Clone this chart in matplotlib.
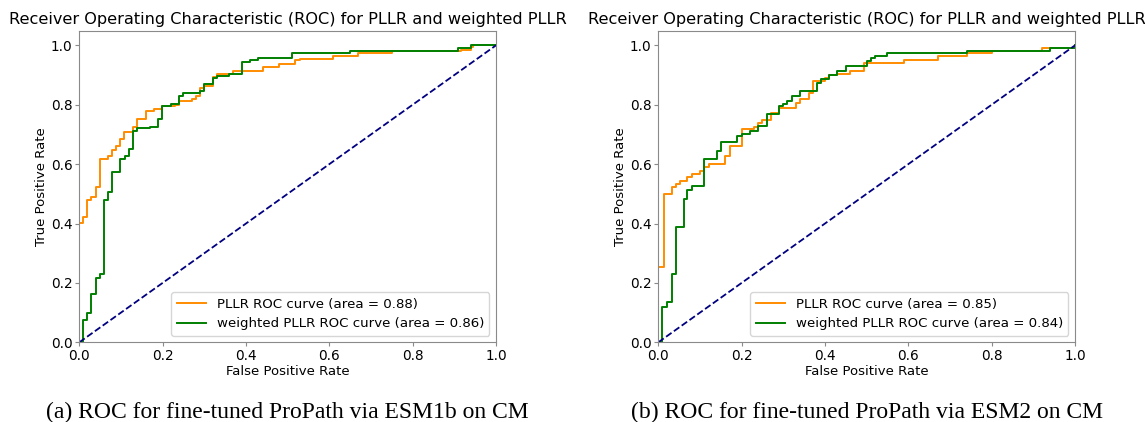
import matplotlib
matplotlib.use('Agg')
import matplotlib.pyplot as plt

# ROC corner points (fpr, tpr)
fpr_a_pllr = [0, 0, 0.008, 0.018, 0.029, 0.039, 0.05, 0.07, 0.079, 0.088, 0.098, 0.107, 0.13, 0.139,
              0.16, 0.179, 0.198, 0.23, 0.24, 0.27, 0.28, 0.29, 0.30, 0.32, 0.33, 0.37, 0.44, 0.48,
              0.518, 0.53, 0.61, 0.67, 0.75, 0.915, 0.94, 0.945, 1.0]
tpr_a_pllr = [0, 0.402, 0.423, 0.48, 0.49, 0.524, 0.617, 0.626, 0.648, 0.661, 0.684, 0.709, 0.726, 0.752,
              0.779, 0.787, 0.796, 0.80, 0.812, 0.82, 0.831, 0.855, 0.862, 0.894, 0.902, 0.913, 0.927, 0.937,
              0.949, 0.955, 0.964, 0.973, 0.98, 0.985, 0.995, 1.0, 1.0]
fpr_a_wpllr = [0, 0.008, 0.018, 0.029, 0.039, 0.05, 0.059, 0.07, 0.079, 0.098, 0.11, 0.119, 0.13, 0.139,
               0.17, 0.189, 0.198, 0.219, 0.24, 0.25, 0.29, 0.30, 0.32, 0.33, 0.36, 0.39, 0.41, 0.43,
               0.51, 0.65, 0.91, 0.94, 1.0]
tpr_a_wpllr = [0, 0.075, 0.10, 0.161, 0.218, 0.23, 0.48, 0.507, 0.574, 0.617, 0.626, 0.65, 0.711, 0.72,
               0.726, 0.753, 0.796, 0.804, 0.829, 0.838, 0.846, 0.87, 0.89, 0.896, 0.905, 0.943, 0.95, 0.957,
               0.973, 0.981, 0.991, 1.0, 1.0]

fpr_b_pllr = [0, 0, 0.013, 0.032, 0.042, 0.053, 0.07, 0.081, 0.10, 0.11, 0.122, 0.161, 0.171, 0.20,
              0.23, 0.24, 0.25, 0.27, 0.29, 0.33, 0.34, 0.362, 0.372, 0.40, 0.41, 0.43, 0.46, 0.494,
              0.59, 0.672, 0.74, 0.80, 0.92, 1.0]
tpr_b_pllr = [0, 0.254, 0.498, 0.522, 0.533, 0.542, 0.555, 0.568, 0.577, 0.592, 0.60, 0.626, 0.661, 0.717,
              0.726, 0.737, 0.749, 0.771, 0.788, 0.807, 0.821, 0.84, 0.879, 0.89, 0.90, 0.904, 0.915, 0.94,
              0.949, 0.965, 0.973, 0.982, 0.991, 1.0]
fpr_b_wpllr = [0, 0.010, 0.021, 0.032, 0.042, 0.061, 0.07, 0.081, 0.11, 0.141, 0.15, 0.19, 0.20, 0.22,
               0.24, 0.26, 0.29, 0.30, 0.31, 0.322, 0.34, 0.38, 0.39, 0.41, 0.43, 0.45, 0.50, 0.51,
               0.52, 0.55, 0.74, 0.94, 1.0]
tpr_b_wpllr = [0, 0.12, 0.136, 0.23, 0.388, 0.483, 0.514, 0.525, 0.617, 0.645, 0.676, 0.695, 0.702, 0.711,
               0.728, 0.77, 0.796, 0.804, 0.812, 0.829, 0.846, 0.874, 0.885, 0.90, 0.915, 0.932, 0.946, 0.957,
               0.965, 0.974, 0.982, 0.991, 1.0]

auc_a = [0.88, 0.86]
auc_b = [0.85, 0.84]
captions = ['(a) ROC for fine-tuned ProPath via ESM1b on CM',
            '(b) ROC for fine-tuned ProPath via ESM2 on CM']

TITLE = 'Receiver Operating Characteristic (ROC) for PLLR and weighted PLLR'
SPINE = '#8a8a8a'

fig = plt.figure(figsize=(11.45, 4.22), dpi=100)
ax_a = fig.add_axes([79.3 / 1145, 1 - 342.3 / 422, 416.7 / 1145, 311.8 / 422])
ax_b = fig.add_axes([658.3 / 1145, 1 - 342.3 / 422, 416.7 / 1145, 311.8 / 422])

panels = [
    (ax_a, fpr_a_pllr, tpr_a_pllr, fpr_a_wpllr, tpr_a_wpllr, auc_a, captions[0]),
    (ax_b, fpr_b_pllr, tpr_b_pllr, fpr_b_wpllr, tpr_b_wpllr, auc_b, captions[1]),
]

for ax, fx, fy, gx, gy, auc, cap in panels:
    ax.plot(fx, fy, color='darkorange', lw=1.4, drawstyle='steps-post',
            label=f'PLLR ROC curve (area = {auc[0]:.2f})')
    ax.plot(gx, gy, color='green', lw=1.4, drawstyle='steps-post',
            label=f'weighted PLLR ROC curve (area = {auc[1]:.2f})')
    ax.plot([0, 1], [0, 1], color='navy', lw=1.3, linestyle='--')
    ax.set_xlim(0.0, 1.0)
    ax.set_ylim(0.0, 1.05)
    ax.set_xticks([0, 0.2, 0.4, 0.6, 0.8, 1.0])
    ax.set_yticks([0, 0.2, 0.4, 0.6, 0.8, 1.0])
    ax.tick_params(labelsize=9.8, color=SPINE, length=3, pad=2)
    for sp in ax.spines.values():
        sp.set_color(SPINE)
    ax.set_xlabel('False Positive Rate', fontsize=9.5, labelpad=1)
    ax.set_ylabel('True Positive Rate', fontsize=9.5, labelpad=2)
    ax.set_title(TITLE, fontsize=11.6, pad=5)
    ax.legend(loc='lower right', fontsize=9.6, handlelength=2.2)
    ax.text(0.5, -0.225, cap, transform=ax.transAxes, ha='center', va='center',
            fontsize=17, family='Liberation Serif')

fig.savefig('out.png', dpi=100, facecolor='white')
